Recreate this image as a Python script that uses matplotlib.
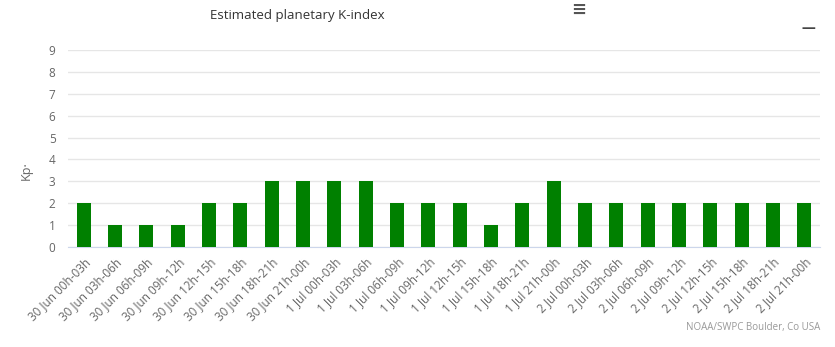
import matplotlib.pyplot as plt

# Estimated planetary K-index, 3-hour intervals
periods = [
    "30 Jun 00h-03h", "30 Jun 03h-06h", "30 Jun 06h-09h", "30 Jun 09h-12h",
    "30 Jun 12h-15h", "30 Jun 15h-18h", "30 Jun 18h-21h", "30 Jun 21h-00h",
    "1 Jul 00h-03h", "1 Jul 03h-06h", "1 Jul 06h-09h", "1 Jul 09h-12h",
    "1 Jul 12h-15h", "1 Jul 15h-18h", "1 Jul 18h-21h", "1 Jul 21h-00h",
    "2 Jul 00h-03h", "2 Jul 03h-06h", "2 Jul 06h-09h", "2 Jul 09h-12h",
    "2 Jul 12h-15h", "2 Jul 15h-18h", "2 Jul 18h-21h", "2 Jul 21h-00h",
]
kp = [2, 1, 1, 1, 2, 2, 3, 3, 3, 3, 2, 2, 2, 1, 2, 3, 2, 2, 2, 2, 2, 2, 2, 2]
yticks = list(range(10))

plt.rcParams['font.family'] = ['Open Sans', 'DejaVu Sans']

fig = plt.figure(figsize=(8.35, 3.47), dpi=100)
ax = fig.add_axes([0.0814, 0.288, 0.9006, 0.568])

x = range(len(kp))
ax.bar(x, kp, width=0.45, color="#008000", zorder=3)

ax.set_xlim(-0.5, len(kp) - 0.5)
ax.set_ylim(0, 9)
ax.set_yticks(yticks)
ax.set_yticklabels([str(v) for v in yticks], color="#666666", fontsize=8.5)
ax.set_xticks(list(x))
ax.set_xticklabels(periods, rotation=45, ha="right", rotation_mode="anchor",
                   color="#666666", fontsize=8.5)
ax.tick_params(axis="y", length=0, pad=9)
ax.tick_params(axis="x", length=0, pad=6)

ax.grid(axis="y", color="#e6e6e6", linewidth=1, zorder=0)
for side in ["top", "right", "left"]:
    ax.spines[side].set_visible(False)
ax.spines["bottom"].set_color("#ccd6eb")

ax.set_ylabel("Kp·", color="#666666", fontsize=9)
ax.yaxis.set_label_coords(-0.047, 0.39)

fig.text(0.252, 0.955, "Estimated planetary K-index", fontsize=9.5,
         color="#333333", va="center")
fig.text(0.693, 0.972, "≡", fontsize=13, color="#555555", ha="center",
         va="center", fontweight="bold")
fig.text(0.968, 0.918, "—", fontsize=10, color="#444444", ha="center",
         va="center", fontweight="bold")
fig.text(0.982, 0.055, "NOAA/SWPC Boulder, Co USA", fontsize=7,
         color="#999999", ha="right", va="center")

fig.savefig("out.png", dpi=100)
